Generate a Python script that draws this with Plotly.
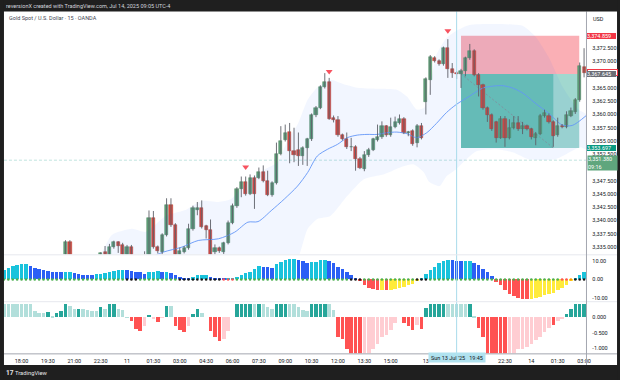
import plotly.graph_objects as go

W, H = 625, 381
FONT = "Roboto"

# ---------------- data ----------------
bar_idx = list(range(-4, 129))  # 15-minute bars, 0 = Thu 18:00

opens = [3328.5, 3329.6, 3330.4, 3330.0,
         3331.2, 3331.9, 3331.0, 3329.9, 3329.2, 3330.0, 3329.5, 3331.0, 3330.3, 3331.2,
         3332.5, 3336.0, 3332.3, 3331.4, 3331.9, 3331.5, 3331.2, 3332.0, 3332.8, 3334.0,
         3333.4, 3335.0, 3335.9, 3335.4, 3333.2, 3335.1, 3332.6, 3331.8, 3332.4, 3333.0,
         3340.4, 3335.0, 3334.1, 3337.3, 3342.9, 3339.2, 3333.5, 3334.1, 3334.8, 3338.4,
         3342.0, 3342.3, 3338.9, 3338.2, 3334.1, 3334.8, 3334.1, 3335.8, 3339.6, 3342.7,
         3345.9, 3347.3, 3345.1, 3348.1, 3348.1, 3349.1, 3347.5, 3344.9, 3347.1, 3352.6,
         3355.2, 3356.7, 3353.2, 3353.4, 3352.1, 3353.6, 3355.3, 3359.9, 3361.3, 3365.2,
         3366.2, 3359.4, 3358.9, 3356.1, 3355.4, 3353.8, 3353.9, 3351.7, 3349.7, 3352.3,
         3353.4, 3355.2, 3355.7, 3357.8, 3356.1, 3357.7, 3358.4, 3359.2, 3356.6, 3356.9,
         3354.6, 3357.9, 3362.3, 3366.6, 3370.7, 3370.1, 3369.5, 3372.6, 3368.6, 3367.9,
         3367.7, 3368.3, 3370.6, 3372.0, 3367.5, 3365.5, 3361.25, 3359.9, 3358.5, 3355.6,
         3359.2, 3355.6, 3357.5, 3358.4, 3357.2, 3357.8, 3357.2, 3355.6, 3356.4, 3359.8,
         3359.7, 3358.6, 3356.1, 3357.9, 3357.7, 3359.8, 3360.4, 3362.7, 3369.05]
highs = [3330.2, 3331.0, 3331.5, 3331.8,
         3332.6, 3332.8, 3331.6, 3330.8, 3330.4, 3331.0, 3331.4, 3331.8, 3331.5, 3332.9,
         3336.3, 3336.3, 3333.0, 3332.2, 3332.8, 3332.4, 3332.6, 3333.2, 3334.0, 3335.2,
         3335.6, 3336.2, 3336.1, 3335.8, 3335.4, 3335.4, 3333.4, 3333.0, 3334.2, 3341.9,
         3341.8, 3335.3, 3337.6, 3344.2, 3344.2, 3339.5, 3334.9, 3335.2, 3339.4, 3342.8,
         3343.5, 3343.8, 3339.2, 3340.2, 3335.5, 3335.1, 3336.0, 3340.0, 3343.2, 3346.3,
         3348.3, 3348.3, 3348.7, 3348.5, 3350.0, 3350.4, 3349.4, 3347.4, 3354.7, 3357.8,
         3358.1, 3358.4, 3357.5, 3356.6, 3354.0, 3355.6, 3360.2, 3361.6, 3365.5, 3367.8,
         3366.9, 3359.8, 3359.7, 3356.4, 3356.6, 3355.6, 3354.2, 3352.0, 3353.1, 3353.7,
         3355.6, 3358.1, 3358.7, 3358.0, 3359.4, 3359.6, 3360.0, 3359.5, 3356.9, 3357.2,
         3358.2, 3358.4, 3367.0, 3371.2, 3371.0, 3370.4, 3372.8, 3374.2, 3369.7, 3368.2,
         3368.6, 3370.9, 3373.3, 3372.3, 3367.8, 3365.8, 3361.5, 3360.2, 3358.8, 3359.7,
         3359.7, 3359.1, 3359.7, 3359.7, 3358.6, 3358.1, 3357.5, 3356.7, 3360.1, 3360.9,
         3360.2, 3358.9, 3359.4, 3358.2, 3360.6, 3361.3, 3363.1, 3369.8, 3372.5]
lows = [3327.8, 3329.0, 3329.6, 3329.5,
        3330.4, 3330.8, 3329.4, 3328.6, 3328.4, 3329.2, 3329.1, 3330.0, 3329.6, 3330.8,
        3332.0, 3331.8, 3330.9, 3330.5, 3331.0, 3330.6, 3330.8, 3331.5, 3332.4, 3333.0,
        3333.0, 3334.7, 3333.9, 3332.6, 3332.8, 3332.0, 3331.2, 3330.9, 3331.9, 3332.6,
        3334.7, 3333.8, 3333.6, 3337.0, 3338.8, 3332.9, 3332.8, 3333.8, 3334.5, 3338.1,
        3341.0, 3338.5, 3336.6, 3332.8, 3333.5, 3333.9, 3333.7, 3335.5, 3339.3, 3342.4,
        3344.4, 3344.7, 3344.8, 3342.2, 3347.8, 3347.2, 3344.6, 3344.5, 3346.8, 3352.3,
        3354.9, 3350.8, 3351.0, 3350.3, 3350.5, 3350.3, 3355.0, 3359.5, 3361.0, 3364.9,
        3359.0, 3358.5, 3355.8, 3355.1, 3353.5, 3353.1, 3349.4, 3349.7, 3349.3, 3352.0,
        3353.1, 3354.9, 3355.4, 3355.8, 3355.8, 3357.4, 3358.1, 3356.3, 3355.9, 3354.1,
        3353.8, 3355.3, 3360.0, 3363.7, 3369.8, 3369.2, 3369.2, 3366.9, 3366.9, 3366.7,
        3365.0, 3367.2, 3370.3, 3367.2, 3363.4, 3360.9, 3358.6, 3356.9, 3354.7, 3355.4,
        3353.9, 3355.3, 3357.2, 3356.9, 3356.3, 3357.0, 3355.3, 3354.2, 3356.1, 3359.4,
        3358.3, 3353.9, 3355.8, 3357.4, 3357.4, 3359.5, 3360.1, 3362.4, 3367.0]
closes = [3329.6, 3330.4, 3330.0, 3331.2,
          3331.9, 3331.0, 3329.9, 3329.2, 3330.0, 3329.5, 3331.0, 3330.3, 3331.2, 3332.5,
          3336.0, 3332.3, 3331.4, 3331.9, 3331.5, 3331.2, 3332.0, 3332.8, 3333.8, 3333.4,
          3335.0, 3336.0, 3335.3, 3333.2, 3335.1, 3332.6, 3331.8, 3332.4, 3333.0, 3340.4,
          3335.0, 3334.2, 3337.3, 3342.9, 3339.2, 3333.5, 3334.2, 3334.8, 3338.4, 3342.3,
          3342.3, 3338.8, 3338.3, 3333.4, 3334.9, 3334.2, 3335.8, 3339.6, 3342.7, 3345.9,
          3347.3, 3345.05, 3348.1, 3345.1, 3349.1, 3347.5, 3344.9, 3347.1, 3352.6, 3355.1,
          3356.6, 3353.2, 3352.3, 3352.1, 3353.6, 3355.3, 3359.9, 3361.3, 3365.2, 3366.05,
          3359.2, 3358.9, 3356.1, 3355.4, 3353.8, 3353.85, 3351.7, 3350.0, 3352.3, 3353.4,
          3355.3, 3355.8, 3357.8, 3356.1, 3357.7, 3358.6, 3359.2, 3356.6, 3356.7, 3354.4,
          3357.9, 3355.6, 3366.7, 3370.9, 3370.1, 3369.6, 3372.5, 3368.6, 3367.9, 3367.7,
          3368.3, 3370.6, 3372.05, 3367.5, 3365.5, 3361.25, 3359.9, 3357.2, 3355.6, 3359.1,
          3355.6, 3357.5, 3358.4, 3357.2, 3357.8, 3357.3, 3355.8, 3356.4, 3359.8, 3360.2,
          3358.6, 3355.9, 3357.9, 3357.7, 3360.0, 3360.6, 3362.8, 3369.2, 3367.845]

# moving average line
ma_x = [-4, 10, 20, 28, 32.3, 36.5, 40.2, 44.8, 48.5, 51.5, 53.8, 56.8, 59.8, 62.8, 65.1,
        67.3, 69.6, 71.9, 74.1, 76.4, 78.6, 80.9, 83.1, 85.4, 87.7, 89.9, 92.2, 94.4, 96.7,
        98.9, 101.9, 105.0, 107.2, 109.5, 111.7, 114.0, 117.0, 120.0, 123.0, 125.3, 128.5]
ma_y = [3324.0, 3327.5, 3330.2, 3332.6, 3334.06, 3335.0, 3336.24, 3336.56, 3337.81, 3339.69,
        3339.8, 3341.86, 3344.06, 3346.5, 3349.06, 3352.17, 3353.43, 3354.37, 3355.62, 3356.11,
        3356.24, 3356.24, 3356.56, 3356.68, 3356.38, 3355.62, 3356.56, 3358.31, 3360.37,
        3361.87, 3363.43, 3365.0, 3365.34, 3365.43, 3365.0, 3364.06, 3362.06, 3360.18,
        3358.03, 3357.93, 3359.8]

# envelope band
band_up_x = [-4, 10, 17.7, 20.6, 25.1, 28.3, 32.8, 37.3, 41.0, 44.8, 47.7, 51.5, 55.4, 58.3,
             60.6, 62.8, 65.1, 67.3, 70.3, 73.0, 76.4, 80.9, 85.4, 87.7, 89.9, 91.7, 94.4,
             96.7, 98.9, 101.9, 108.0, 114.1, 117.0, 119.9, 123.1, 126.7, 128.5]
band_up_y = [3326.0, 3330.5, 3333.37, 3337.31, 3338.44, 3337.87, 3340.87, 3342.0, 3343.69,
             3343.5, 3344.06, 3347.44, 3349.69, 3351.0, 3355.3, 3358.1, 3362.8, 3365.1,
             3366.56, 3365.81, 3365.06, 3364.87, 3364.68, 3363.37, 3360.94, 3361.31, 3371.25,
             3374.44, 3375.75, 3376.87, 3377.06, 3376.69, 3374.62, 3370.87, 3365.25, 3360.94,
             3359.99]
band_lo_x = [-4, 30, 55, 62.8, 65.1, 67.3, 70.3, 74.1, 77.9, 82.5, 86.9, 89.2, 91.5, 92.8,
             95.1, 96.7, 98.9, 100.5, 103.5, 108.0, 111.8, 115.4, 121.5, 127.1, 128.5]
band_lo_y = [3316.0, 3320.0, 3326.0, 3332.8, 3338.44, 3340.31, 3340.87, 3344.62, 3347.81,
             3348.75, 3350.25, 3350.62, 3349.12, 3347.25, 3346.5, 3348.37, 3349.69, 3351.0,
             3353.06, 3353.44, 3352.87, 3351.56, 3351.56, 3353.81, 3353.44]

# oscillator 1 (momentum histogram + squeeze dots)
osc1 = [5.0, 6.2, 6.8, 7.7,
        8.0, 8.0, 7.3, 6.2, 5.5, 5.0, 4.5, 3.7, 3.6, 3.6,
        4.1, 4.1, 3.2, 2.7, 2.3, 2.3, 2.3, 2.7, 2.9, 3.2,
        3.7, 4.5, 5.0, 5.1, 5.0, 4.5, 4.1, 3.6, 3.0, 3.7,
        4.1, 4.2, 3.7, 4.1, 3.2, 2.3, 1.4, 0.9, 0.9, 1.0,
        2.0, 2.3, 2.4, 1.1, 0.7, 0.5, 0.2, 0.2, 0.3, 1.4,
        2.3, 3.2, 4.1, 5.5, 6.8, 6.6, 6.3, 6.2, 8.0, 9.4,
        10.3, 10.9, 11.0, 10.3, 9.6, 8.9, 9.0, 9.3, 10.2, 10.3,
        9.6, 8.4, 6.6, 5.3, 3.6, 2.1, 0.7, -1.1, -3.2, -4.6,
        -5.3, -5.7, -5.8, -6.0, -5.9, -5.0, -4.6, -4.1, -3.2, -2.3,
        -0.8, 0.3, 3.0, 4.8, 6.6, 8.4, 9.6, 10.2, 10.1, 9.8,
        9.6, 9.8, 9.9, 8.9, 7.5, 5.7, 3.9, 1.8, -1.4, -3.2,
        -5.9, -7.7, -8.9, -10.0, -10.3, -10.4, -10.3, -10.0, -9.4, -8.6,
        -7.7, -7.1, -5.9, -4.6, -2.9, -0.5, 0.7, 2.5, 3.9]
osc1_kind = ("cccc" "ccbbbbbbbb" "ccbbbbbccc" "ccccbbbbbc" "ccbcbbbbbc" "cccbbbbccc"
             "cccccbbbcc" "cccbbbcccc" "bbbbbbbrrr" "rryryyyyyy" "ycccccccbb" "bccbbbbbrr"
             "rrrrrryyyy" "yyyyyyccc")
dot_kind = ("gggg" "gggggggggg" "gggggggggg" "ggggkkkggg" "ggggggkkkk" "kkkkkkrrrg"
            "gggggggggg" "gggggggggg" "gggggkkkgg" "gggggggggg" "kkkggggggg" "gggggggggg"
            "gggggggggg" "gggrrokkk")

# oscillator 2
osc2 = [0.42, 0.42, 0.42, 0.42,
        0.42, 0.42, 0.42, 0.20, 0.15, 0.13, 0.18, 0.04, 0.13, 0.20,
        0.42, 0.37, 0.28, 0.28, 0.26, 0.24, 0.20, 0.20, 0.34, 0.28,
        0.42, 0.42, 0.28, 0.24, 0.01, -0.12, -0.37, -0.44, -0.28, 0.08,
        -0.06, -0.15, -0.01, 0.37, 0.37, -0.28, -0.39, -0.47, -0.28, 0.10,
        0.26, 0.15, 0.0, -0.44, -0.62, -0.76, -0.71, -0.44, 0.0, 0.42,
        0.42, 0.42, 0.42, 0.42, 0.42, 0.42, 0.34, 0.28, 0.42, 0.42,
        0.42, 0.42, 0.42, 0.34, 0.24, 0.20, 0.42, 0.42, 0.42, 0.42,
        0.42, 0.23, -0.62, -0.69, -1.01, -1.2, -1.2, -1.2, -1.2, -1.2,
        -1.03, -0.87, -0.62, -0.58, -0.39, -0.19, 0.0, -0.17, -0.28, -0.41,
        -0.23, -0.37, 0.31, 0.42, 0.42, 0.42, 0.42, 0.42, 0.42, 0.42,
        0.42, 0.42, 0.42, 0.06, -0.33, -0.62, -1.2, -1.2, -1.2, -1.2,
        -1.2, -1.2, -1.2, -1.03, -1.03, -0.96, -0.87, -0.73, -0.62, -0.47,
        -0.33, -0.23, -0.12, -0.06, 0.10, 0.28, 0.42, 0.42, 0.42]
osc2_kind = ("tttt" "ttttttTtTT" "TttTttttTt" "TTtttRRRpT" "pRpTtRRRpT" "TttRRRpptT"
             "TTTtTtttTT" "TtttttTTTT" "ttRRRRRRpp" "pppppptRRR" "pRTTTTTttt" "ttTtRRRRRR"
             "Rppppppppp" "pRppTTTTT")

pivot_x = [51, 70, 97]
pivot_y = [3350.1, 3368.1, 3375.8]

time_tick_vals = [0, 6, 12, 18, 24, 30, 36, 42, 48, 54, 60, 66, 72, 78, 84, 92, 110, 116, 122, 128]
time_tick_text = ["18:00", "19:30", "21:00", "22:30", "11", "01:30", "03:00", "04:30", "06:00",
                  "07:30", "09:00", "10:30", "12:00", "13:30", "15:00", "13", "22:30", "14",
                  "01:30", "03:00"]
price_ticks = [3335.0, 3337.5, 3340.0, 3342.5, 3345.0, 3347.5, 3350.0, 3352.5, 3355.0,
               3357.5, 3360.0, 3362.5, 3365.0, 3367.5, 3370.0, 3372.5]

# position tool (short): entry / stop / target, start & end bars
pos_entry, pos_stop, pos_target = 3367.645, 3374.859, 3353.697
pos_start, pos_hit, pos_end = 100, 121, 126.9
last_price = 3367.845
alert_price = 3351.380

n = len(bar_idx)
for arr in (opens, highs, lows, closes, osc1, osc2):
    assert len(arr) == n, len(arr)
assert len(osc1_kind) == n and len(dot_kind) == n and len(osc2_kind) == n

# ---------------- helpers ----------------
def py(v):
    return 1 - v / H

def pxp(v):
    return v / W

UP_FILL, UP_LINE = "#5fa078", "#44825c"
DN_FILL, DN_LINE = "#d94a3d", "#ab392e"
C1 = {"c": "#19c3dc", "b": "#2b5ff5", "r": "#ff5252", "y": "#ffeb3b"}
CD = {"g": "#4caf50", "k": "#1b1b1b", "r": "#ff5252", "o": "#ff9800"}
C2 = {"T": "#26a69a", "t": "#b2dfdb", "R": "#ff5252", "p": "#ffcdd2"}

fig = go.Figure()

# band
fig.add_trace(go.Scatter(
    x=band_up_x + band_lo_x[::-1], y=band_up_y + band_lo_y[::-1],
    fill="toself", fillcolor="rgba(41,98,255,0.06)", mode="lines",
    line=dict(width=0, shape="spline", smoothing=0.6), hoverinfo="skip", yaxis="y"))

# MA
fig.add_trace(go.Scatter(x=ma_x, y=ma_y, mode="lines",
                         line=dict(color="#6396f7", width=0.9, shape="spline", smoothing=0.8),
                         hoverinfo="skip", yaxis="y"))

# wicks
wx, wy = [], []
for i, h, l in zip(bar_idx, highs, lows):
    wx += [i, i, None]
    wy += [l, h, None]
fig.add_trace(go.Scatter(x=wx, y=wy, mode="lines", line=dict(color="#5d6068", width=0.9),
                         hoverinfo="skip", yaxis="y"))

# bodies
bases, heights, fills, borders = [], [], [], []
for o, c in zip(opens, closes):
    up = c >= o
    bases.append(min(o, c))
    heights.append(max(abs(c - o), 0.12))
    fills.append(UP_FILL if up else DN_FILL)
    borders.append(UP_LINE if up else DN_LINE)
fig.add_trace(go.Bar(x=bar_idx, y=heights, base=bases, width=0.72,
                     marker=dict(color=fills, line=dict(color=borders, width=0.5)),
                     hoverinfo="skip", yaxis="y"))

# pivot markers
fig.add_trace(go.Scatter(x=pivot_x, y=pivot_y, mode="markers",
                         marker=dict(symbol="triangle-down", size=6, color="#f7525f",
                                     line=dict(width=0)), hoverinfo="skip", yaxis="y"))

# oscillator 1
fig.add_trace(go.Bar(x=bar_idx, y=osc1, width=0.8,
                     marker=dict(color=[C1[k] for k in osc1_kind], line=dict(width=0)),
                     hoverinfo="skip", yaxis="y2"))
fig.add_trace(go.Scatter(x=bar_idx, y=[0] * n, mode="markers",
                         marker=dict(size=2.6, color=[CD[k] for k in dot_kind]),
                         hoverinfo="skip", yaxis="y2"))

# oscillator 2
fig.add_trace(go.Bar(x=bar_idx, y=osc2, width=0.8,
                     marker=dict(color=[C2[k] for k in osc2_kind], line=dict(width=0)),
                     hoverinfo="skip", yaxis="y3"))

tickfont = dict(family=FONT, size=5.5, color="#131722")
X0, X1 = pxp(4), pxp(591)

shapes = [
    # position tool
    dict(type="rect", xref="x", yref="y", x0=pos_start, x1=pos_end, y0=pos_entry, y1=pos_stop,
         fillcolor="rgba(242,54,69,0.40)", line=dict(width=0), layer="below"),
    dict(type="rect", xref="x", yref="y", x0=pos_start, x1=pos_end, y0=pos_target, y1=pos_entry,
         fillcolor="rgba(8,153,129,0.38)", line=dict(width=0), layer="below"),
    dict(type="rect", xref="x", yref="y", x0=pos_start, x1=pos_hit, y0=pos_target, y1=pos_entry,
         fillcolor="rgba(8,153,129,0.36)", line=dict(width=0), layer="below"),
    dict(type="line", xref="x", yref="y", x0=pos_start, x1=pos_hit, y0=pos_entry, y1=pos_target,
         line=dict(color="#8a8d96", width=0.8, dash="2px,2px"), layer="below"),
    # alert / dashed level
    dict(type="line", xref="paper", yref="y", x0=X0, x1=X1, y0=alert_price, y1=alert_price,
         line=dict(color="rgba(8,153,129,0.25)", width=1, dash="3px,2px"), layer="below"),
    # crosshair
    dict(type="line", xref="x", yref="paper", x0=99, x1=99, y0=py(354.8), y1=py(11.5),
         line=dict(color="#a8dbeb", width=1), layer="above"),
    # pane separators
    dict(type="line", xref="paper", yref="paper", x0=X0, x1=pxp(622), y0=py(255.5), y1=py(255.5),
         line=dict(color="#e6e8ee", width=1), layer="above"),
    dict(type="line", xref="paper", yref="paper", x0=X0, x1=pxp(622), y0=py(302.5), y1=py(302.5),
         line=dict(color="#e6e8ee", width=1), layer="above"),
    dict(type="line", xref="paper", yref="paper", x0=X0, x1=pxp(622), y0=py(354.8), y1=py(354.8),
         line=dict(color="#a3a6af", width=1), layer="above"),
    dict(type="line", xref="paper", yref="paper", x0=pxp(591.2), x1=pxp(591.2), y0=py(366), y1=py(11.5),
         line=dict(color="#a3a6af", width=1), layer="above"),
    # dark frame
    dict(type="rect", xref="paper", yref="paper", x0=0, x1=1, y0=py(11.5), y1=1,
         fillcolor="#1f1f1f", line=dict(width=0), layer="above"),
    dict(type="rect", xref="paper", yref="paper", x0=0, x1=1, y0=0, y1=py(366),
         fillcolor="#1f1f1f", line=dict(width=0), layer="above"),
    dict(type="rect", xref="paper", yref="paper", x0=0, x1=pxp(4), y0=0, y1=1,
         fillcolor="#1f1f1f", line=dict(width=0), layer="above"),
    dict(type="rect", xref="paper", yref="paper", x0=pxp(622), x1=1, y0=0, y1=1,
         fillcolor="#1f1f1f", line=dict(width=0), layer="above"),
]

def price_box(price, text, bg, fg, border=None, h=6.2):
    return dict(xref="paper", yref="y", x=pxp(591.5), y=price, xanchor="left", yanchor="middle",
                text=text, showarrow=False, bgcolor=bg, font=dict(family=FONT, size=5.5, color=fg),
                width=29, height=h, align="left", borderpad=0,
                bordercolor=border if border else bg, borderwidth=1 if border else 0)

annotations = [
    dict(xref="paper", yref="paper", x=pxp(4), y=py(5.8), xanchor="left", yanchor="middle",
         text="reversionX created with TradingView.com, Jul 14, 2025 09:05 UTC-4", showarrow=False,
         font=dict(family=FONT, size=5.5, color="#d1d4dc")),
    dict(xref="paper", yref="paper", x=pxp(7), y=py(17.8), xanchor="left", yanchor="middle",
         text="Gold Spot / U.S. Dollar · 15 · OANDA", showarrow=False,
         font=dict(family=FONT, size=5.5, color="#434651")),
    dict(xref="paper", yref="paper", x=pxp(596), y=py(19), xanchor="left", yanchor="middle",
         text="USD", showarrow=False, font=dict(family=FONT, size=5.5, color="#131722")),
    dict(xref="paper", yref="paper", x=pxp(4), y=py(373.8), xanchor="left", yanchor="middle",
         text="<b>17</b>", showarrow=False, font=dict(family=FONT, size=6.5, color="#e8e8e8")),
    dict(xref="paper", yref="paper", x=pxp(13.5), y=py(373.8), xanchor="left", yanchor="middle",
         text="TradingView", showarrow=False, font=dict(family=FONT, size=5.8, color="#e8e8e8")),
    dict(xref="x", yref="paper", x=99, y=py(358.8), xanchor="center", yanchor="middle",
         text="Sun 13 Jul '25 \u00a0\u00a019:45", showarrow=False, bgcolor="#b0e2ef",
         font=dict(family=FONT, size=5.5, color="#131722"), width=56, height=9, borderpad=0),
    price_box(pos_stop, "3,374.859", "#f23645", "#ffffff"),
    price_box(last_price, "3,367.845", "#ffffff", "#f23645", border="#f23645", h=5.2),
    price_box(pos_entry, "3,367.645", "#6a6d76", "#ffffff"),
    price_box(pos_target, "3,353.697", "#089981", "#ffffff"),
    dict(xref="paper", yref="y", x=pxp(591.5), y=alert_price - 0.5, xanchor="left", yanchor="middle",
         text="3,351.380<br>09:16", showarrow=False, bgcolor="#5fa67d",
         font=dict(family=FONT, size=5.5, color="#ffffff"), width=29, height=14, align="left",
         borderpad=0),
]

fig.update_layout(
    width=W, height=H, autosize=False,
    margin=dict(l=0, r=0, t=0, b=0, pad=0),
    paper_bgcolor="#ffffff", plot_bgcolor="rgba(0,0,0,0)",
    showlegend=False, hovermode=False, barmode="overlay", bargap=0,
    xaxis=dict(domain=[X0, X1], range=[-4.0, 128.5], anchor="y3",
               tickvals=time_tick_vals, ticktext=time_tick_text, tickfont=tickfont,
               showgrid=False, zeroline=False, showline=False, ticks="outside", ticklen=2,
               tickcolor="rgba(0,0,0,0)", fixedrange=True),
    yaxis=dict(domain=[py(255), py(12)], range=[3333.63, 3379.33], anchor="x", side="right",
               tickvals=price_ticks, tickformat=",.3f", tickfont=tickfont,
               showgrid=False, zeroline=False, showline=False, ticks="outside", ticklen=4,
               tickcolor="rgba(0,0,0,0)"),
    yaxis2=dict(domain=[py(301), py(256)], range=[-11.0, 12.9], anchor="x", side="right",
                tickvals=[10, 0, -10], ticktext=["10.00", "0.00", "-10.00"], tickfont=tickfont,
                showgrid=False, zeroline=False, showline=False, ticks="outside", ticklen=4,
                tickcolor="rgba(0,0,0,0)"),
    yaxis3=dict(domain=[py(354.3), py(304.5)], range=[-1.171, 0.435], anchor="x", side="right",
                tickvals=[0, -0.5, -1], ticktext=["0.000", "-0.500", "-1.000"], tickfont=tickfont,
                showgrid=False, zeroline=False, showline=False, ticks="outside", ticklen=4,
                tickcolor="rgba(0,0,0,0)"),
    shapes=shapes,
    annotations=annotations,
)

fig.write_html("out.html")
